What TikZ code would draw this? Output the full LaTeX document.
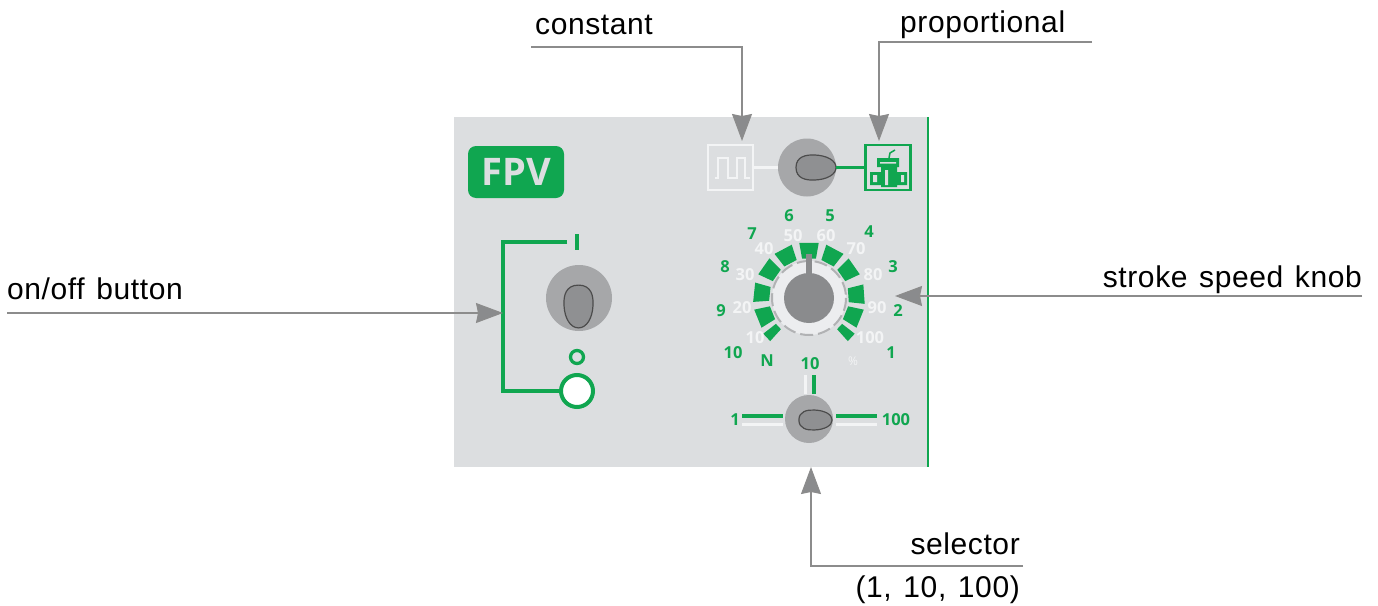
\documentclass[tikz,border=0pt]{standalone}
\usepackage{fontspec}
\usetikzlibrary{arrows.meta}
\setmainfont{Liberation Sans}[LetterSpace=2, WordSpace=1.3]
\newfontfamily\panelfont{Open Sans}
\definecolor{panelgrey}{HTML}{DCDEE0}
\definecolor{panelgreen}{HTML}{10A650}
\definecolor{panelwhite}{HTML}{F3F4F5}
\definecolor{knobgrey}{HTML}{A6A7A9}
\definecolor{lipgrey}{HTML}{8F9092}
\definecolor{dialgrey}{HTML}{8A8B8D}
\definecolor{leadergrey}{HTML}{8C8C8C}
\tikzset{
  callout/.style={inner sep=0pt, font=\fontsize{30}{36}\selectfont, text=black},
  leader/.style={draw=leadergrey, line width=1.2pt, -{Stealth[length=27pt, width=20pt, inset=2pt, fill=dialgrey]}},
  knob/.style={circle, fill=knobgrey, inner sep=0pt},
  greennum/.style={inner sep=0pt, text=panelgreen, font=\panelfont\bfseries\fontsize{16.5}{16.5}\selectfont},
  whitenum/.style={inner sep=0pt, text=panelwhite, font=\panelfont\bfseries\fontsize{16.5}{16.5}\selectfont},
  greenline/.style={draw=panelgreen, line width=3.3pt},
  whiteline/.style={draw=panelwhite, line width=3pt},
  pics/egg/.style={code={
    \draw [fill=lipgrey, draw=black!70, line width=1.2pt]
      (-20,0) .. controls (-20,-11) and (-10,-13) .. (-1,-12.5)
              .. controls (11,-12) and (20,-7) .. (20,0)
              .. controls (20,7) and (11,12) .. (-1,12.5)
              .. controls (-10,13) and (-20,11) .. (-20,0) -- cycle;
  }},
}
\begin{document}
\begin{tikzpicture}[x=1pt, y=-1pt]
  \useasboundingbox (0,0) rectangle (1378,605);

  % panel
  \node [fill=panelgrey, inner sep=0pt, minimum width=474pt, minimum height=350pt] (panel) at (691,292) {};
  \draw [panelgreen, line width=1.8pt] (panel.north east) -- (panel.south east);
  \node [fill=panelgreen, text=panelgrey, rounded corners=8pt, inner sep=0pt, minimum width=96pt, minimum height=52pt,
         font=\panelfont\bfseries\fontsize{38}{38}\selectfont] (badge) at (516,172) {FPV};

  % on/off side
  \node [knob, minimum size=66pt] (power) at (579,298) {};
  \pic [rotate=-90, yscale=1.16, xscale=1.07] at (578.5,306.5) {egg};
  \node [circle, draw=panelgreen, line width=4pt, fill=white, inner sep=0pt, minimum size=32pt] (onlamp) at (577,391) {};
  \node [circle, draw=panelgreen, line width=3.3pt, inner sep=0pt, minimum size=13pt] (offmark) at (577,357) {};
  \node [fill=panelgreen, inner sep=0pt, minimum width=4.5pt, minimum height=16pt] (onmark) at (577,242) {};
  \coordinate (railtop) at (503,242);
  \coordinate (railend) at (567,242);
  \draw [greenline] (railend) -- (railtop) |- (onlamp);

  % mode switch
  \node [knob, minimum size=58pt] (mode) at (807,167.5) {};
  \pic at (816,167.5) {egg};
  \node [draw=panelwhite, line width=2.8pt, inner sep=0pt, minimum size=45pt] (constbox) at (730.5,167.5) {};
  \node [draw=panelgreen, line width=2.8pt, inner sep=0pt, minimum size=45pt] (propbox) at (888,167.5) {};
  \draw [whiteline] (constbox) -- (mode);
  \draw [greenline] (mode) -- (propbox);
  \draw [panelwhite, line width=1.2pt] (715,178) -- (718,178) -- (718,158) -- (728,158) -- (728,178)
        -- (737,178) -- (737,158) -- (745,158) -- (745,178) -- (750,178);
  % pump picture
  \fill [panelgreen] (870,172) rectangle (882,185) (896,172) rectangle (907,185)
        (881,166) rectangle (897,187) (877,158) rectangle (899,167);
  \fill [panelgrey] (873,175) rectangle (877,182) (901,175) rectangle (904,182)
        (885,170) rectangle (888,185) (880,162) rectangle (896,163.5);
  \draw [panelgreen, line width=1.5pt] (889,158) -- (890,153) -- (895,150);

  % stroke dial
  \coordinate (dial) at (809,298);
  \begin{scope}[shift={(dial)}]
    \foreach \ang in {-90,-118,-62,-145,-35,-174,-4,-202,22}
      \fill [panelgreen] (\ang-10:40) -- (\ang-10:56) -- (\ang+10:56) -- (\ang+10:40) -- cycle;
    \foreach \ang in {43,137}
      \fill [panelgreen] (\ang-5:42) -- (\ang-5:58) -- (\ang+5:58) -- (\ang+5:42) -- cycle;
    \fill [panelwhite!70!panelgrey] (0,0) circle [radius=37];
    \draw [knobgrey!80!panelgrey, line width=2pt, dash pattern=on 13pt off 5pt] (0,0) circle [radius=37];
  \end{scope}
  \node [circle, fill=dialgrey, inner sep=0pt, minimum size=50pt] (stroke) at (dial) {};
  \node [fill=dialgrey, inner sep=0pt, minimum width=6pt, minimum height=25pt] (strokepointer) at (809,266) {};

  \foreach \x/\y/\t in {891/353/1, 898/311/2, 893/267/3, 869/232/4, 830/216/5, 789/216/6, 752/234/7, 725/267/8, 721/311/9, 733/353/10}
    \node [greennum] (green\t) at (\x,\y) {\t};
  \foreach \x/\y/\t in {755/338/10, 742/308/20, 745/275/30, 764/249/40, 793/236/50, 826/236/60, 856/249/70, 873/275/80, 877/308/90, 870/338/100}
    \node [whitenum] (white\t) at (\x,\y) {\t};
  \node [greennum] (newton) at (767,361) {N};
  \node [whitenum, font=\panelfont\fontsize{12}{12}\selectfont] (percent) at (853,361) {\%};

  % selector
  \node [knob, minimum size=48pt] (range) at (809,419) {};
  \pic [scale=0.83, yscale=0.96] at (815.5,420) {egg};
  \node [greennum] (rangeone) at (735,420) {1};
  \node [greennum] (rangeten) at (810,364) {10};
  \node [greennum] (rangehundred) at (896,420) {100};
  \coordinate (bar1) at (742,416);  \coordinate (bar2) at (783,416);
  \coordinate (bar3) at (742,424);  \coordinate (bar4) at (783,424);
  \coordinate (bar5) at (836,416);  \coordinate (bar6) at (877,416);
  \coordinate (bar7) at (836,424);  \coordinate (bar8) at (877,424);
  \coordinate (bar9) at (805,375);  \coordinate (bar10) at (805,394);
  \coordinate (bar11) at (814,375); \coordinate (bar12) at (814,394);
  \draw [greenline] (bar1) -- (bar2);
  \draw [whiteline] (bar3) -- (bar4);
  \draw [greenline] (bar5) -- (bar6);
  \draw [whiteline] (bar7) -- (bar8);
  \draw [whiteline] (bar9) -- (bar10);
  \draw [greenline] (bar11) -- (bar12);

  % callouts
  \node [callout, anchor=base west] (constant) at (535,34) {constant};
  \node [callout, anchor=base west] (proportional) at (900,32) {proportional};
  \node [callout, anchor=base west] (onoff) at (7,299) {on/off button};
  \node [callout, anchor=base east] (strokespeed) at (1362,287) {stroke speed knob};
  \node [callout, anchor=base east] (selector) at (1020,554) {selector};
  \node [callout, anchor=base east] (selectorrange) at (1020,597) {(1, 10, 100)};

  \coordinate (constantfree) at (531,47);
  \coordinate (constanttip) at (742,141);
  \coordinate (proportionalfree) at (1092,42);
  \coordinate (proportionaltip) at (879,141);
  \coordinate (onofffree) at (7,313);
  \coordinate (onofftip) at (503,313);
  \coordinate (strokefree) at (1362,296);
  \coordinate (stroketip) at (895,296);
  \coordinate (selectorfree) at (1023,566);
  \coordinate (selectortip) at (811,467);
  \draw [leader] (constantfree) -| (constanttip);
  \draw [leader] (proportionalfree) -| (proportionaltip);
  \draw [leader] (onofffree) -- (onofftip);
  \draw [leader] (strokefree) -- (stroketip);
  \draw [leader] (selectorfree) -| (selectortip);
\end{tikzpicture}
\end{document}
